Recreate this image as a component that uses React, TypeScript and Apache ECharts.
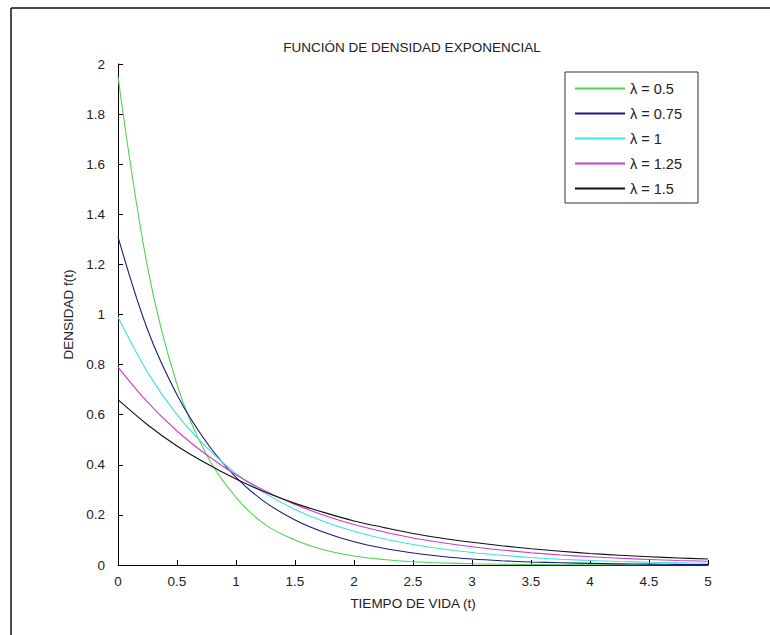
import React, { useEffect, useRef } from "react";
import * as echarts from "echarts";

const tValues = [0, 0.25, 0.5, 0.75, 1, 1.25, 1.5, 1.75, 2, 2.25, 2.5, 2.75, 3, 3.25, 3.5, 3.75, 4, 4.25, 4.5, 4.75, 5];

const lambda050 = [1.95, 1.19, 0.72, 0.44, 0.27, 0.16, 0.10, 0.06, 0.036, 0.022, 0.013, 0.008, 0.005, 0.003, 0.002, 0.001, 0.0007, 0.0004, 0.0002, 0.0001, 0.0001];
const lambda075 = [1.31, 0.94, 0.68, 0.49, 0.35, 0.25, 0.18, 0.13, 0.093, 0.067, 0.048, 0.034, 0.024, 0.017, 0.012, 0.009, 0.0064, 0.0046, 0.0033, 0.0024, 0.0017];
const lambda100 = [0.99, 0.77, 0.60, 0.47, 0.365, 0.285, 0.222, 0.173, 0.135, 0.105, 0.082, 0.064, 0.05, 0.039, 0.03, 0.023, 0.018, 0.014, 0.011, 0.0087, 0.0067];
const lambda125 = [0.79, 0.65, 0.535, 0.44, 0.36, 0.295, 0.242, 0.198, 0.162, 0.133, 0.108, 0.089, 0.073, 0.06, 0.049, 0.04, 0.033, 0.027, 0.022, 0.018, 0.015];
const lambda150 = [0.66, 0.56, 0.475, 0.405, 0.343, 0.29, 0.246, 0.209, 0.176, 0.15, 0.126, 0.107, 0.091, 0.077, 0.065, 0.055, 0.046, 0.039, 0.033, 0.028, 0.024];

const seriesNames = ["λ = 0.5", "λ = 0.75", "λ = 1", "λ = 1.25", "λ = 1.5"];
const seriesValues = [lambda050, lambda075, lambda100, lambda125, lambda150];
const seriesColors = ["#4cd64c", "#1a1a86", "#3fe0e0", "#cc3ccc", "#111111"];

const titleText = "FUNCIÓN DE DENSIDAD EXPONENCIAL";
const xAxisName = "TIEMPO DE VIDA (t)";
const yAxisName = "DENSIDAD f(t)";

const FONT = "'Liberation Sans', Arial, sans-serif";

export default function App() {
  const ref = useRef<HTMLDivElement>(null);
  useEffect(() => {
    if (!ref.current) return;
    const chart = echarts.init(ref.current, undefined, { renderer: "svg" });
    const fmt = (v: number) => String(+v.toFixed(2));
    chart.setOption({
      animation: false,
      backgroundColor: "#ffffff",
      textStyle: { fontFamily: FONT },
      grid: { left: 118, right: 62, top: 64, bottom: 70 },
      xAxis: {
        type: "value",
        min: 0,
        max: 5,
        interval: 0.5,
        name: xAxisName,
        nameLocation: "middle",
        nameGap: 31,
        nameTextStyle: { color: "#222", fontSize: 13.5, fontFamily: FONT },
        axisLine: { onZero: false, lineStyle: { color: "#000", width: 1 } },
        axisTick: { inside: true, length: 5, lineStyle: { color: "#000" } },
        axisLabel: { color: "#222", fontSize: 13.5, margin: 9, formatter: fmt, fontFamily: FONT },
        splitLine: { show: false },
      },
      yAxis: {
        type: "value",
        min: 0,
        max: 2,
        interval: 0.2,
        name: yAxisName,
        nameLocation: "middle",
        nameGap: 42,
        nameTextStyle: { color: "#222", fontSize: 13.5, fontFamily: FONT },
        axisLine: { show: true, onZero: false, lineStyle: { color: "#000", width: 1 } },
        axisTick: { show: true, inside: true, length: 5, lineStyle: { color: "#000" } },
        axisLabel: { color: "#222", fontSize: 13.5, margin: 13, formatter: fmt, fontFamily: FONT },
        splitLine: { show: false },
      },
      legend: {
        orient: "vertical",
        left: 565,
        top: 72,
        padding: [9, 16, 7, 9],
        itemWidth: 50,
        itemHeight: 14,
        itemGap: 10,
        borderColor: "#333",
        borderWidth: 1,
        backgroundColor: "#fff",
        itemStyle: { opacity: 0 },
        textStyle: { color: "#222", fontSize: 14.5, fontFamily: FONT },
        data: seriesNames,
      },
      series: seriesNames.map((name, i) => ({
        name,
        type: "line",
        data: tValues.map((t, j) => [t, seriesValues[i][j]]),
        symbol: "none",
        smooth: 0.35,
        lineStyle: { color: seriesColors[i], width: 1.1 },
        itemStyle: { color: seriesColors[i] },
      })),
      graphic: [
        {
          type: "text",
          x: 412,
          y: 47,
          style: {
            text: titleText,
            align: "center",
            verticalAlign: "middle",
            fill: "#222",
            font: `13.5px ${FONT}`,
          },
        },
        {
          type: "line",
          shape: { x1: 11, y1: 8, x2: 770, y2: 8 },
          style: { stroke: "#111", lineWidth: 1.5 },
        },
        {
          type: "line",
          shape: { x1: 11, y1: 8, x2: 11, y2: 635 },
          style: { stroke: "#111", lineWidth: 1.5 },
        },
      ],
    });
    return () => chart.dispose();
  }, []);
  return (
    <div
      ref={ref}
      style={{ position: "fixed", left: 0, top: 0, width: 770, height: 635, background: "#fff" }}
    />
  );
}
